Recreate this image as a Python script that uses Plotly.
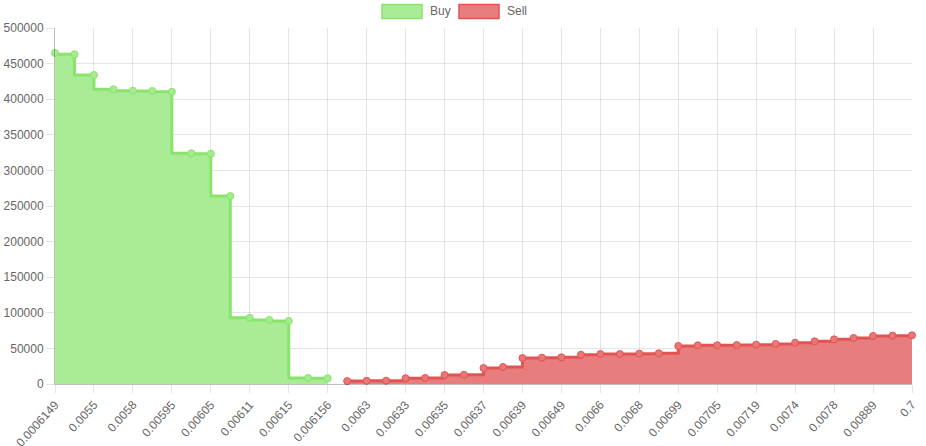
import plotly.graph_objects as go

# Price categories (every other one is labelled on the axis)
categories = [
    "0.0006149", "0.005", "0.0055", "0.0057", "0.0058", "0.0059", "0.00595", "0.006",
    "0.00605", "0.0061", "0.00611", "0.00613", "0.00615", "0.006155", "0.006156",
    "0.0062", "0.0063", "0.00632", "0.00633", "0.00634", "0.00635", "0.00636",
    "0.00637", "0.00638", "0.00639", "0.0064", "0.00649", "0.0065", "0.0066",
    "0.0067", "0.0068", "0.0069", "0.00699", "0.007", "0.00705", "0.0071",
    "0.00719", "0.0072", "0.0074", "0.0075", "0.0078", "0.008", "0.00889", "0.009", "0.7",
]
tick_labels = categories[::2]

buy_prices = categories[:15]
buy_volume = [465000, 463000, 434000, 414000, 412000, 411500, 410500, 324000,
              323500, 264000, 93000, 90000, 88500, 8500, 8000]

sell_prices = categories[15:]
sell_volume = [4200, 4500, 4700, 8000, 8500, 12600, 13000, 22500, 23900, 36500,
               37000, 37500, 41200, 42100, 42100, 42600, 43100, 53400, 54300, 54500,
               54700, 55300, 56200, 58000, 59900, 62700, 64600, 67400, 67900, 68400]

y_ticks = list(range(0, 500001, 50000))

GREEN_LINE = "rgb(137,228,108)"
GREEN_FILL = "rgb(170,235,150)"
RED_LINE = "rgb(226,84,84)"
RED_FILL = "rgb(232,125,125)"

fig = go.Figure()
fig.add_trace(go.Scatter(
    x=buy_prices, y=buy_volume, name="Buy", mode="lines+markers",
    line=dict(color=GREEN_LINE, width=3, shape="vh"),
    fill="tozeroy", fillcolor=GREEN_FILL,
    marker=dict(size=7, color="rgb(165,236,145)", line=dict(color=GREEN_LINE, width=1)),
    cliponaxis=False,
))
fig.add_trace(go.Scatter(
    x=sell_prices, y=sell_volume, name="Sell", mode="lines+markers",
    line=dict(color=RED_LINE, width=3, shape="hv"),
    fill="tozeroy", fillcolor=RED_FILL,
    marker=dict(size=7, color="rgb(232,120,120)", line=dict(color=RED_LINE, width=1)),
    cliponaxis=False,
))

W, H = 926, 446
L, R, T, B = 55, 14, 28, 62
pw, ph = W - L - R, H - T - B

def px(x):
    return (x - L) / pw

def py(y):
    return (H - B - y) / ph

shapes = []
annotations = []
for x0, x1, fill, line, label, tx in [
    (382, 422, GREEN_FILL, GREEN_LINE, "Buy", 428),
    (459, 499, RED_FILL, RED_LINE, "Sell", 505),
]:
    shapes.append(dict(type="rect", xref="paper", yref="paper",
                       x0=px(x0), x1=px(x1), y0=py(18.5), y1=py(4.5),
                       fillcolor=fill, line=dict(color=line, width=1.5)))
    annotations.append(dict(xref="paper", yref="paper", x=px(tx), y=py(11.5),
                            xanchor="left", yanchor="middle", text=label, showarrow=False,
                            font=dict(family="Liberation Sans, Arial", size=12, color="#666")))

fig.update_layout(
    width=W, height=H,
    margin=dict(l=L, r=R, t=T, b=B),
    paper_bgcolor="white", plot_bgcolor="white",
    showlegend=False,
    shapes=shapes, annotations=annotations,
    font=dict(family="Liberation Sans, Arial", size=12, color="#666"),
    xaxis=dict(
        type="category", categoryorder="array", categoryarray=categories,
        range=[0, len(categories) - 1],
        tickmode="array", tickvals=tick_labels, ticktext=tick_labels,
        tickangle=-48, ticks="outside", ticklen=8, tickcolor="rgba(0,0,0,0.1)",
        showgrid=True, gridcolor="rgba(0,0,0,0.1)", gridwidth=1,
        showline=True, linecolor="rgba(0,0,0,0.25)", linewidth=1,
        zeroline=False, automargin=False,
        tickfont=dict(family="Liberation Sans, Arial", size=12, color="#666"),
    ),
    yaxis=dict(
        range=[0, 500000], tickmode="array", tickvals=y_ticks,
        ticktext=[str(v) for v in y_ticks],
        ticks="outside", ticklen=8, tickcolor="rgba(0,0,0,0.1)",
        showgrid=True, gridcolor="rgba(0,0,0,0.1)", gridwidth=1,
        showline=True, linecolor="rgba(0,0,0,0.25)", linewidth=1,
        zeroline=False, automargin=False,
        tickfont=dict(family="Liberation Sans, Arial", size=12, color="#666"),
    ),
)

fig.write_html(
    "out.html",
    config={"displayModeBar": False},
    post_script="document.body.style.margin='0';document.body.style.overflow='hidden';",
)
